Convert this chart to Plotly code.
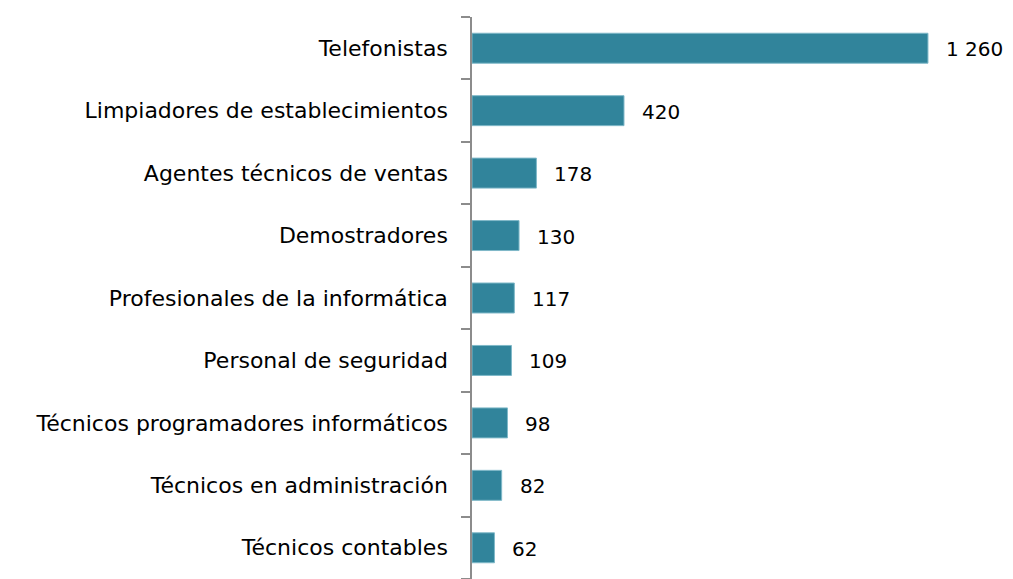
import plotly.graph_objects as go

categories = [
    "Telefonistas",
    "Limpiadores de establecimientos",
    "Agentes técnicos de ventas",
    "Demostradores",
    "Profesionales de la informática",
    "Personal de seguridad",
    "Técnicos programadores informáticos",
    "Técnicos en administración",
    "Técnicos contables",
]
values = [1260, 420, 178, 130, 117, 109, 98, 82, 62]
value_labels = ["1 260", "420", "178", "130", "117", "109", "98", "82", "62"]

fig = go.Figure()
fig.add_trace(go.Bar(
    y=categories,
    x=values,
    orientation="h",
    marker=dict(color="#31849B", line=dict(color="#7FB8C8", width=1)),
    hoverinfo="skip",
))

for c, v, t in zip(categories, values, value_labels):
    fig.add_annotation(
        x=v, y=c, text=t, showarrow=False, xanchor="left", xshift=16, yshift=-1,
        font=dict(family="DejaVu Sans", size=20, color="#000000"),
    )

# page body has an 8px margin; compensate so the plot lands where the reference has it
fig.update_layout(
    width=1005, height=571,
    margin=dict(l=464, r=0, t=9, b=0, autoexpand=False),
    paper_bgcolor="white", plot_bgcolor="white",
    showlegend=False,
    bargap=0.52,
    xaxis=dict(range=[0, 1495], visible=False, fixedrange=True),
    yaxis=dict(
        categoryorder="array", categoryarray=categories[::-1],
        autorange=False, range=[-0.5, 8.5],
        showline=True, linecolor="#8C8C8C", linewidth=1.5,
        ticks="outside", tickson="boundaries", ticklen=9, tickcolor="#8C8C8C", tickwidth=1.5,
        tickfont=dict(family="DejaVu Sans", size=22, color="#000000"),
        ticklabelstandoff=18,
        showgrid=False, zeroline=False,
    ),
)

fig.write_html("out.html")
